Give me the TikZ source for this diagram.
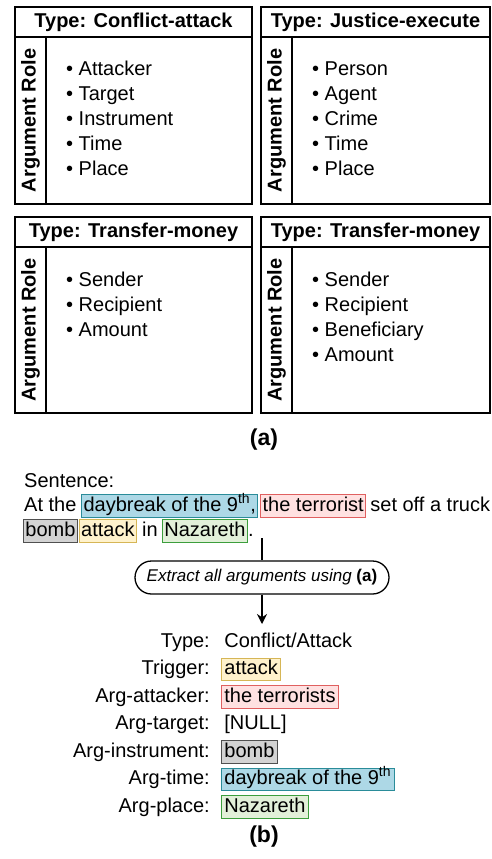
\documentclass[tikz,border=0pt]{standalone}
\usepackage{fontspec}
\setmainfont{Liberation Sans}
\usepackage{tikz}
\usetikzlibrary{arrows.meta}
\usetikzlibrary{positioning}

\definecolor{timefill}{HTML}{ADD8E6}
\definecolor{timeline}{HTML}{2A8C99}
\definecolor{agentfill}{HTML}{FFE1E1}
\definecolor{agentline}{HTML}{E06060}
\definecolor{instrfill}{HTML}{D3D3D3}
\definecolor{instrline}{HTML}{505050}
\definecolor{trigfill}{HTML}{FFF2CC}
\definecolor{trigline}{HTML}{D6B656}
\definecolor{placefill}{HTML}{E2F0D9}
\definecolor{placeline}{HTML}{3C9E3C}

\begin{document}
\begin{tikzpicture}[x=1pt,y=-1pt,>={Stealth[length=10pt,width=10pt]},font=\fontsize{20}{24}\selectfont,
    cell/.style={draw,line width=1.2pt,inner sep=0pt},
    head/.style={cell,minimum height=30pt,font=\fontsize{20}{24}\selectfont\bfseries},
    role/.style={rotate=90,inner sep=0pt,font=\fontsize{20}{24}\selectfont\bfseries},
    item/.style={anchor=base west,inner sep=0pt},
    word/.style={anchor=base west,inner sep=0pt},
    hl/.style={anchor=base west,inner xsep=2pt,inner ysep=1.7pt,text height=14.5pt,text depth=4.2pt,line width=0.8pt},
    val/.style={hl,inner xsep=3pt,inner ysep=2pt},
    hltime/.style={fill=timefill,draw=timeline},
    hlagent/.style={fill=agentfill,draw=agentline},
    hlinstr/.style={fill=instrfill,draw=instrline},
    hltrig/.style={fill=trigfill,draw=trigline},
    hlplace/.style={fill=placefill,draw=placeline},
    caption/.style={font=\fontsize{23}{26}\selectfont\bfseries}]

   \useasboundingbox (0,0) rectangle (492,859);

   % (a) argument roles per event type
   \begin{scope}
    \node[head,minimum width=237pt] (h1) at (133.5,22) {Type: Conflict-attack};
    \node[cell,minimum width=237pt,minimum height=167pt] (b1) at (133.5,120.5) {};
    \node[cell,minimum width=31pt,minimum height=167pt] (r1) at (30.5,120.5) {};
    \node[role] at (r1) {Argument Role};
    \foreach \name [count=\i] in {Attacker,Target,Instrument,Time,Place}
      \node[item] (ca\i) at (66,50+25*\i) {• \name};

    \node[head,minimum width=229pt] (h2) at (375.5,22) {Type: Justice-execute};
    \node[cell,minimum width=229pt,minimum height=167pt] (b2) at (375.5,120.5) {};
    \node[cell,minimum width=31pt,minimum height=167pt] (r2) at (276.5,120.5) {};
    \node[role] at (r2) {Argument Role};
    \foreach \name [count=\i] in {Person,Agent,Crime,Time,Place}
      \node[item] (je\i) at (312,50+25*\i) {• \name};

    \node[head,minimum width=237pt] (h3) at (133.5,232) {Type: Transfer-money};
    \node[cell,minimum width=237pt,minimum height=166pt] (b3) at (133.5,330) {};
    \node[cell,minimum width=31pt,minimum height=166pt] (r3) at (30.5,330) {};
    \node[role] at (r3) {Argument Role};
    \foreach \name [count=\i] in {Sender,Recipient,Amount}
      \node[item] (tm\i) at (66,261+25*\i) {• \name};

    \node[head,minimum width=229pt] (h4) at (375.5,232) {Type: Transfer-money};
    \node[cell,minimum width=229pt,minimum height=166pt] (b4) at (375.5,330) {};
    \node[cell,minimum width=31pt,minimum height=166pt] (r4) at (276.5,330) {};
    \node[role] at (r4) {Argument Role};
    \foreach \name [count=\i] in {Sender,Recipient,Beneficiary,Amount}
      \node[item] (tn\i) at (312,261+25*\i) {• \name};

    \node[caption] (capa) at (264,440) {(a)};
   \end{scope}

   % (b) sentence and extracted arguments
   \begin{scope}
    \node[word] (sent) at (24,487) {Sentence:};
    \node[word] (w1) at (24,511) {At the};
    \node[hl,hltime] (time) at ([xshift=4.5pt]w1.base east) {daybreak of the 9\textsuperscript{th},};
    \node[hl,hlagent] (agent) at ([xshift=2pt]time.base east) {the terrorist};
    \node[word] (w2) at ([xshift=4pt]agent.base east) {set off a truck};

    \node[hl,hlinstr] (instr) at (23,536) {bomb};
    \node[hl,hltrig] (trig) at ([xshift=1pt]instr.base east) {attack};
    \node[word] (w3) at ([xshift=5pt]trig.base east) {in};
    \node[hl,hlplace] (place) at ([xshift=4pt]w3.base east) {Nazareth};
    \node[word] (w4) at (place.base east) {.};

    \node[draw,rectangle,rounded corners=16.5pt,line width=1.3pt,minimum width=254pt,minimum height=33pt,
      font=\fontsize{17}{20}\selectfont\itshape] (ext) at (262,577.5) {Extract all arguments using \textbf{\upshape (a)}};
    \coordinate (top) at (262,538);
    \coordinate (tip) at (262,624);
    \draw[line width=1.6pt] (top) -- (ext.north);
    \draw[->,line width=1.6pt] (ext.south) -- (tip);

    \foreach \key [count=\i] in {Type:,Trigger:,Arg-attacker:,Arg-target:,Arg-instrument:,Arg-time:,Arg-place:}
      \node[anchor=base east,inner sep=0pt] (k\i) at (210,619.5+27.5*\i) {\key};

    \node[val] (v1) at ([xshift=11pt]k1.base east) {Conflict/Attack};
    \node[val,hltrig] (v2) at ([xshift=11pt]k2.base east) {attack};
    \node[val,hlagent] (v3) at ([xshift=11pt]k3.base east) {the terrorists};
    \node[val] (v4) at ([xshift=11pt]k4.base east) {[NULL]};
    \node[val,hlinstr] (v5) at ([xshift=11pt]k5.base east) {bomb};
    \node[val,hltime] (v6) at ([xshift=11pt]k6.base east) {daybreak of the 9\textsuperscript{th}};
    \node[val,hlplace] (v7) at ([xshift=11pt]k7.base east) {Nazareth};

    \node[caption] (capb) at (264,837) {(b)};
   \end{scope}
  \end{tikzpicture}
\end{document}
